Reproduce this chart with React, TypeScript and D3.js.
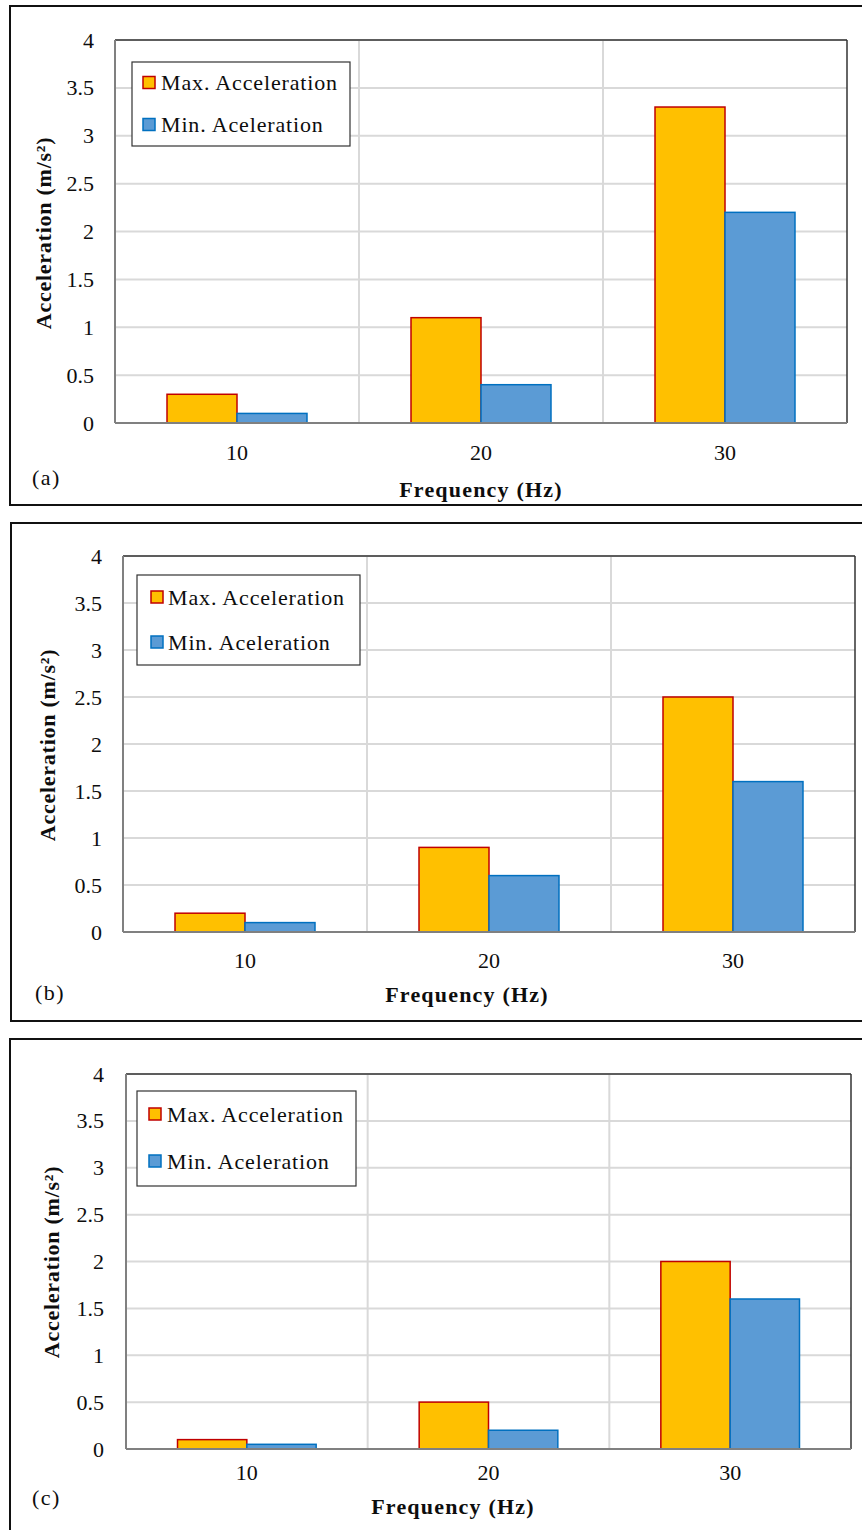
import React from "react";
import * as d3 from "d3";

const categories = ["10", "20", "30"];
const seriesNames = ["Max. Acceleration", "Min. Aceleration"];
const maxA_a = [0.3, 1.1, 3.3];
const minA_a = [0.1, 0.4, 2.2];
const maxA_b = [0.2, 0.9, 2.5];
const minA_b = [0.1, 0.6, 1.6];
const maxA_c = [0.1, 0.5, 2.0];
const minA_c = [0.05, 0.2, 1.6];
const yTicks = [0, 0.5, 1, 1.5, 2, 2.5, 3, 3.5, 4];
const panelLabels = ["(a)", "(b)", "(c)"];

const COLORS = {
  maxFill: "#FFC000",
  maxStroke: "#C00000",
  minFill: "#5B9BD5",
  minStroke: "#0070C0",
};

type PanelCfg = {
  frame: [number, number, number, number];
  plot: [number, number, number, number];
  legend: [number, number, number, number];
  legendRows: [number, number];
  legendMarkX: number;
  legendTextX: number;
  tickLabelX: number;
  xTickY: number;
  tagPos: [number, number];
  xTitle: [number, number];
  yTitle: [number, number];
};

const panels: PanelCfg[] = [
  {
    frame: [10, 6, 880, 505],
    plot: [115, 40, 847, 423],
    legend: [132, 62, 350, 146],
    legendRows: [82.5, 124.5],
    legendMarkX: 143,
    legendTextX: 161,
    tickLabelX: 94,
    xTickY: 460,
    tagPos: [32, 485],
    xTitle: [481, 497],
    yTitle: [44, 233],
  },
  {
    frame: [11, 523, 880, 1021],
    plot: [123, 556, 855, 932],
    legend: [137, 575, 360, 665],
    legendRows: [597, 642],
    legendMarkX: 151,
    legendTextX: 168,
    tickLabelX: 102,
    xTickY: 968,
    tagPos: [35, 1000],
    xTitle: [467, 1002],
    yTitle: [48, 745],
  },
  {
    frame: [10, 1039, 880, 1545],
    plot: [126, 1074, 851, 1449],
    legend: [137, 1091, 356, 1186],
    legendRows: [1114, 1161],
    legendMarkX: 149,
    legendTextX: 167,
    tickLabelX: 104,
    xTickY: 1480,
    tagPos: [32, 1505],
    xTitle: [453, 1514],
    yTitle: [52, 1262],
  },
];

const panelData = [
  [maxA_a, minA_a],
  [maxA_b, minA_b],
  [maxA_c, minA_c],
];

const FONT = "'Liberation Serif', 'Times New Roman', serif";
const TEXT = "#0d0d0d";

function Panel({ cfg, data, tag }: { cfg: PanelCfg; data: number[][]; tag: string }) {
  const [pl, pt, pr, pb] = cfg.plot;
  const y = d3.scaleLinear().domain([0, 4]).range([pb, pt]);
  const x = d3.scaleBand<string>().domain(categories).range([pl, pr]).padding(0);
  const inner = d3
    .scaleBand<string>()
    .domain(["max", "min"])
    .range([0, x.bandwidth()])
    .paddingInner(0)
    .paddingOuter(0.743);
  const keys = ["max", "min"];
  const fills = [COLORS.maxFill, COLORS.minFill];
  const strokes = [COLORS.maxStroke, COLORS.minStroke];
  const [lx0, ly0, lx1, ly1] = cfg.legend;
  return (
    <g>
      <rect
        x={cfg.frame[0]}
        y={cfg.frame[1]}
        width={cfg.frame[2] - cfg.frame[0]}
        height={cfg.frame[3] - cfg.frame[1]}
        fill="white"
        stroke="#111"
        strokeWidth={2}
      />
      {yTicks.slice(1).map((t) => (
        <line key={"h" + t} x1={pl} x2={pr} y1={y(t)} y2={y(t)} stroke="#D9D9D9" strokeWidth={2} />
      ))}
      {categories.slice(1).map((c) => (
        <line key={"v" + c} x1={x(c)!} x2={x(c)!} y1={pt} y2={pb} stroke="#D9D9D9" strokeWidth={2} />
      ))}
      <line x1={pl} x2={pr} y1={pt} y2={pt} stroke="#333" strokeWidth={1.5} />
      <line x1={pr} x2={pr} y1={pt} y2={pb} stroke="#333" strokeWidth={1.5} />
      {categories.map((c, i) =>
        keys.map((k, s) => {
          const v = data[s][i];
          const bx = x(c)! + inner(k)!;
          return (
            <rect
              key={c + k}
              x={bx}
              y={y(v)}
              width={inner.bandwidth()}
              height={pb - y(v)}
              fill={fills[s]}
              stroke={strokes[s]}
              strokeWidth={1.5}
            />
          );
        })
      )}
      <line x1={pl} x2={pl} y1={pt} y2={pb} stroke="#808080" strokeWidth={2} />
      <line x1={pl} x2={pr} y1={pb} y2={pb} stroke="#808080" strokeWidth={2} />
      {yTicks.map((t) => (
        <text
          key={"yt" + t}
          x={cfg.tickLabelX}
          y={y(t) + 7.5}
          textAnchor="end"
          fontFamily={FONT}
          fontSize={22}
          fill={TEXT}
        >
          {t}
        </text>
      ))}
      {categories.map((c) => (
        <text
          key={"xt" + c}
          x={x(c)! + x.bandwidth() / 2}
          y={cfg.xTickY}
          textAnchor="middle"
          fontFamily={FONT}
          fontSize={22}
          fill={TEXT}
        >
          {c}
        </text>
      ))}
      <text
        x={cfg.xTitle[0]}
        y={cfg.xTitle[1]}
        textAnchor="middle"
        fontFamily={FONT}
        fontSize={22}
        fontWeight="bold"
        letterSpacing={1.2}
        fill={TEXT}
      >
        Frequency (Hz)
      </text>
      <text
        transform={`translate(${cfg.yTitle[0] + 7},${cfg.yTitle[1]}) rotate(-90)`}
        textAnchor="middle"
        fontFamily={FONT}
        fontSize={22}
        fontWeight="bold"
        letterSpacing={0.75}
        fill={TEXT}
      >
        Acceleration (m/s²)
      </text>
      <text x={cfg.tagPos[0]} y={cfg.tagPos[1]} fontFamily={FONT} fontSize={22} letterSpacing={1.5} fill={TEXT}>
        {tag}
      </text>
      <rect x={lx0} y={ly0} width={lx1 - lx0} height={ly1 - ly0} fill="white" stroke="#333" strokeWidth={1.2} />
      {seriesNames.map((n, s) => (
        <g key={n}>
          <rect
            x={cfg.legendMarkX}
            y={cfg.legendRows[s] - 6}
            width={12}
            height={12}
            fill={fills[s]}
            stroke={strokes[s]}
            strokeWidth={1.5}
          />
          <text
            x={cfg.legendTextX}
            y={cfg.legendRows[s] + 7.5}
            fontFamily={FONT}
            fontSize={22}
            letterSpacing={0.85}
            fill={TEXT}
          >
            {n}
          </text>
        </g>
      ))}
    </g>
  );
}

export default function App() {
  return (
    <svg width={862} height={1530} style={{ position: "absolute", left: 0, top: 0, background: "white" }}>
      <rect x={0} y={0} width={862} height={1530} fill="white" />
      {panels.map((cfg, i) => (
        <Panel key={i} cfg={cfg} data={panelData[i]} tag={panelLabels[i]} />
      ))}
    </svg>
  );
}
